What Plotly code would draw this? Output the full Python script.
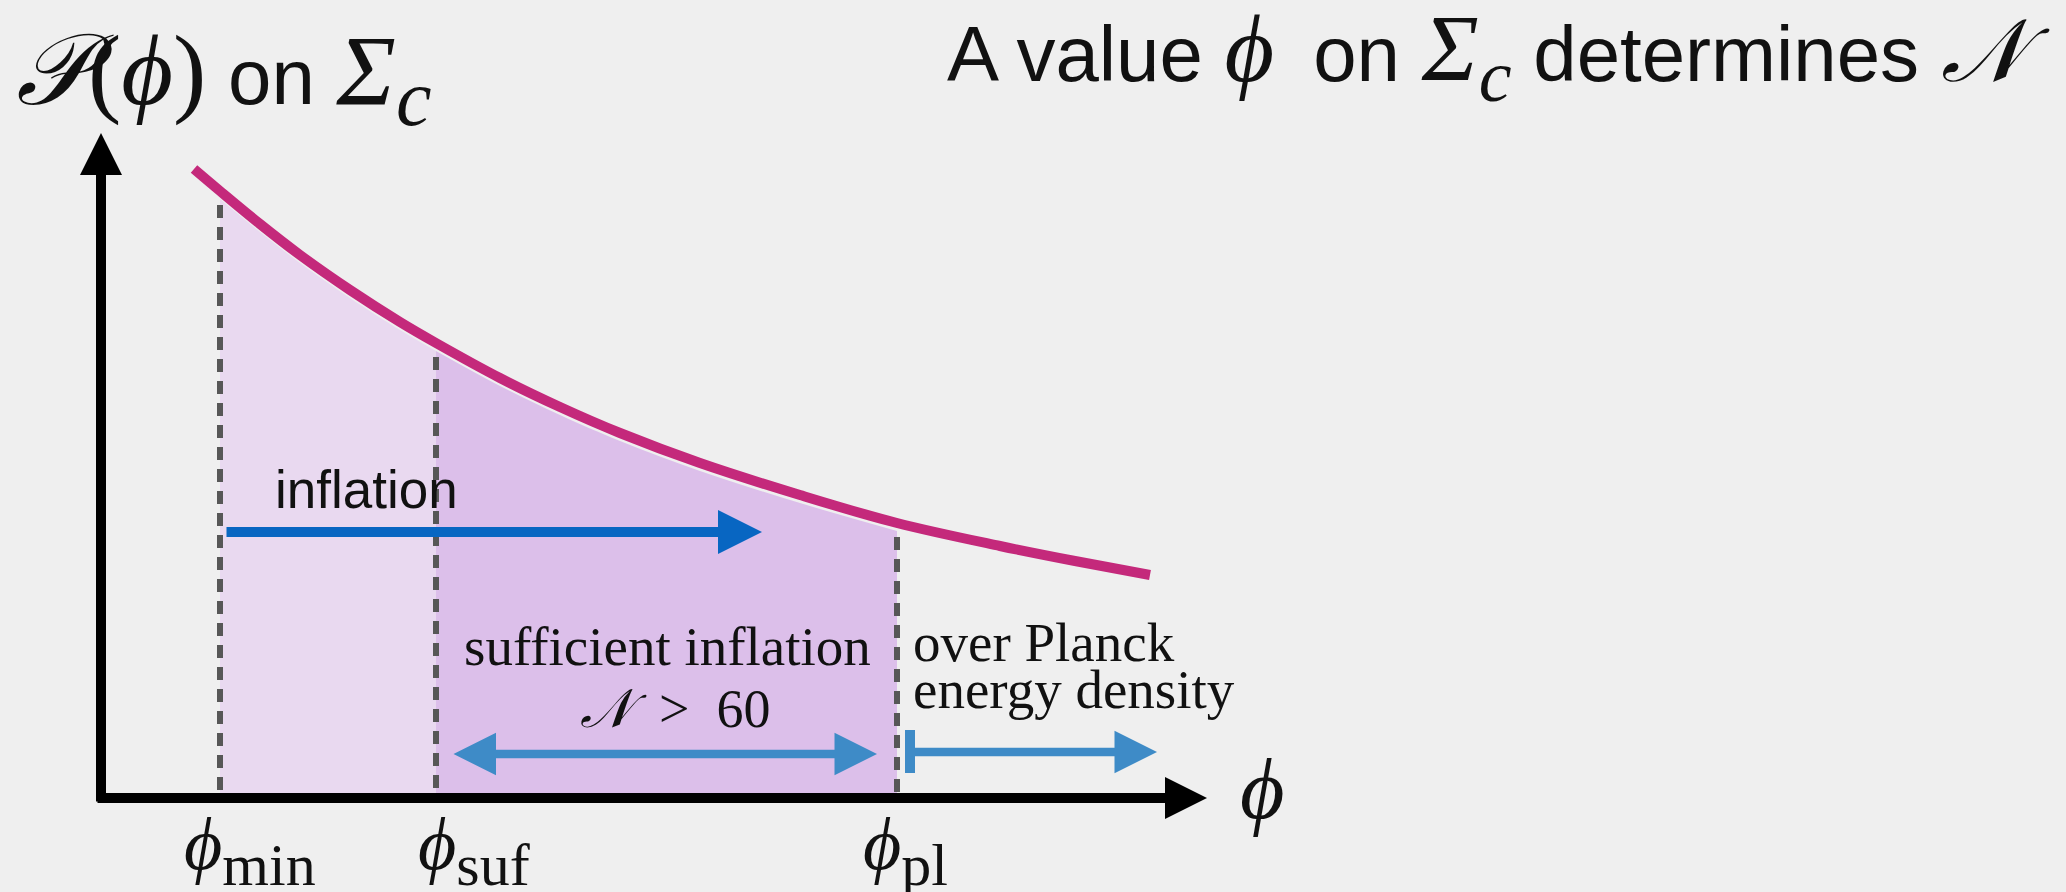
import plotly.graph_objects as go

# ---------------- data (1 unit = 100 px) ----------------
phi = [0.93, 1.19, 1.59, 1.99, 2.49, 2.99, 3.35, 3.99, 4.59, 5.19, 5.99, 6.99, 7.96, 8.99, 9.74, 10.49]
P = [6.29, 6.07, 5.74, 5.43, 5.08, 4.76, 4.55, 4.20, 3.91, 3.65, 3.35, 3.03, 2.75, 2.52, 2.37, 2.23]

mark_names = ["min", "suf", "pl"]
mark_phi = [1.19, 3.35, 7.96]

# horizontal arrows: [start, end, level]
inflation_arrow = [1.24, 6.61, 2.66]
sufficient_arrow = [3.51, 7.76, 0.44]
planck_arrow = [8.09, 10.56, 0.46]
planck_bar = [0.25, 0.68]
x_axis_end = 11.06
y_axis_end = 6.65

# ---------------- layout helpers ----------------
W, H = 2066, 892
OX, OY, UNIT = 101, 798, 100.0


def X(px):
    return (px - OX) / UNIT


def Y(py):
    return (OY - py) / UNIT


SANS = "Liberation Sans, Arial, Helvetica, sans-serif"
SERIF = "Liberation Serif, Times New Roman, DejaVu Serif, serif"
SERIF_CSS = "'Liberation Serif','DejaVu Serif',serif"


def math_style(size, italic=True):
    s = f"font-family:{SERIF_CSS};font-size:{size}px"
    return s + (";font-style:italic" if italic else "")


CURVE = "#C4297B"
LIGHT = "#E9D9F0"
DARK = "#DCBFEA"
DASH = "#575757"
BLUE = "#0866C2"
LBLUE = "#3E8BC7"
INK = "#111111"

i_min, i_suf, i_pl = (phi.index(v) for v in mark_phi)

fig = go.Figure()

# shaded regions under the curve (sitting just below the curve line)
fill_gap = 0.08
fig.add_trace(go.Scatter(x=phi[i_min:i_suf + 1], y=[p - fill_gap for p in P[i_min:i_suf + 1]],
                         mode="lines", line=dict(width=0, shape="spline", smoothing=1.0),
                         fill="tozeroy", fillcolor=LIGHT, hoverinfo="skip"))
fig.add_trace(go.Scatter(x=phi[i_suf:i_pl + 1], y=[p - fill_gap for p in P[i_suf:i_pl + 1]],
                         mode="lines", line=dict(width=0, shape="spline", smoothing=1.0),
                         fill="tozeroy", fillcolor=DARK, hoverinfo="skip"))

# dashed verticals
for v in mark_phi:
    top = P[phi.index(v)] - 0.14
    fig.add_trace(go.Scatter(x=[v, v], y=[top, 0], mode="lines",
                             line=dict(color=DASH, width=6, dash="13px,9px"),
                             hoverinfo="skip"))

# curve
fig.add_trace(go.Scatter(x=phi, y=P, mode="lines",
                         line=dict(color=CURVE, width=10, shape="spline", smoothing=1.0),
                         hoverinfo="skip"))

ann = []


def arrow(x0, y0, x1, y1, color, width, size, both=False):
    d = dict(x=x1, y=y1, ax=x0, ay=y0, xref="x", yref="y", axref="x", ayref="y",
             text="", showarrow=True, arrowhead=2, arrowsize=size, arrowwidth=width,
             arrowcolor=color, standoff=0)
    if both:
        d.update(arrowside="end+start", startarrowhead=2, startarrowsize=size, startstandoff=0)
    return d


# axes
ann.append(arrow(X(96), 0, x_axis_end, 0, "#000000", 10, 0.84))
ann.append(arrow(0, Y(803), 0, y_axis_end, "#000000", 10, 0.84))
# inflation arrow
ann.append(arrow(inflation_arrow[0], inflation_arrow[2], inflation_arrow[1], inflation_arrow[2], BLUE, 10, 0.88))
# sufficient inflation double arrow
ann.append(arrow(sufficient_arrow[0], sufficient_arrow[2], sufficient_arrow[1], sufficient_arrow[2], LBLUE, 8.5, 1.0, both=True))
# over planck arrow
ann.append(arrow(planck_arrow[0], planck_arrow[2], planck_arrow[1], planck_arrow[2], LBLUE, 8.5, 1.0))

fig.add_shape(type="line", xref="x", yref="y", x0=planck_arrow[0], x1=planck_arrow[0],
              y0=planck_bar[0], y1=planck_bar[1], line=dict(color=LBLUE, width=10))


def text(px, py, s, size, family, xanchor="center"):
    ann.append(dict(x=X(px), y=Y(py), xref="x", yref="y", text=s, showarrow=False,
                    xanchor=xanchor, yanchor="middle",
                    font=dict(family=family, size=size, color=INK)))


# titles
M, MU = math_style(100), math_style(100, italic=False)
text(14, 78,
     f'<span style="{M}">𝒫</span><span style="{MU}">(</span>'
     f'<span style="{M}">ϕ</span><span style="{MU}">)</span> on '
     f'<span style="{M}">Σ<sub><span style="font-size:80px">c</span></sub></span>',
     78, SANS, xanchor="left")
M2 = math_style(96)
text(2052, 56,
     f'A value <span style="{M2}">ϕ</span>\u2002on '
     f'<span style="{M2}">Σ<sub><span style="font-size:74px">c</span></sub></span> determines '
     f'<span style="{math_style(88)}">𝒩</span>',
     78, SANS, xanchor="right")

# region labels
text(273, 489, "inflation", 53, SANS, xanchor="left")
text(667, 646, "sufficient inflation", 55, SERIF)
text(675, 709, "<i>𝒩</i>\u2002&gt;\u200260", 54, SERIF)
text(911, 642, "over Planck", 55, SERIF, xanchor="left")
text(911, 689, "energy density", 55, SERIF, xanchor="left")

# axis labels
label_px = [250, 474, 905]
for name, px in zip(mark_names, label_px):
    text(px, 850, f'<i>ϕ</i><sub><span style="font-size:60px">{name}</span></sub>', 74, SERIF)
text(1262, 789, "<i>ϕ</i>", 86, SERIF)

fig.update_layout(
    width=W, height=H, autosize=False,
    margin=dict(l=0, r=0, t=0, b=0, pad=0),
    paper_bgcolor="#EFEFEF", plot_bgcolor="#EFEFEF",
    showlegend=False, hovermode=False,
    xaxis=dict(range=[X(0), X(W)], visible=False, fixedrange=True),
    yaxis=dict(range=[Y(H), Y(0)], visible=False, fixedrange=True),
    annotations=ann,
)

fig.write_html("out.html", config={"displayModeBar": False},
               post_script="document.body.style.margin='0px';document.body.style.background='#EFEFEF';")
